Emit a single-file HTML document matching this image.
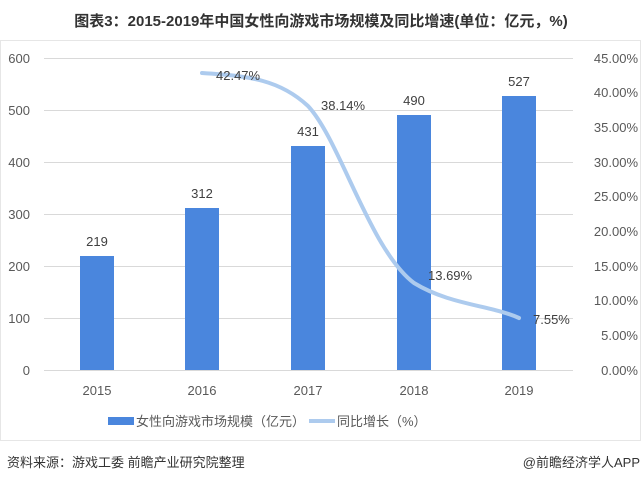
<!DOCTYPE html>
<html><head><meta charset="utf-8"><style>
body{margin:0;width:642px;height:482px;background:#fff;overflow:hidden}
svg{display:block}
</style></head><body>
<svg width="642" height="482" xmlns="http://www.w3.org/2000/svg" font-family="'Liberation Sans','Noto Sans CJK SC',sans-serif">
<text x="321" y="26" text-anchor="middle" font-size="15" font-weight="bold" fill="#333">图表3：2015-2019年中国女性向游戏市场规模及同比增速(单位：亿元，%)</text>
<rect x="0.5" y="40.5" width="640" height="400" fill="none" stroke="#e6e6e6"/>
<g stroke="#d9d9d9" stroke-width="1">
<line x1="44" y1="58.5" x2="573" y2="58.5"/>
<line x1="44" y1="110.5" x2="573" y2="110.5"/>
<line x1="44" y1="162.5" x2="573" y2="162.5"/>
<line x1="44" y1="214.5" x2="573" y2="214.5"/>
<line x1="44" y1="266.5" x2="573" y2="266.5"/>
<line x1="44" y1="318.5" x2="573" y2="318.5"/>
<line x1="44" y1="370.5" x2="573" y2="370.5"/>
</g>
<g font-size="13" fill="#595959" text-anchor="end">
<text x="30" y="63">600</text><text x="30" y="115">500</text><text x="30" y="167">400</text>
<text x="30" y="219">300</text><text x="30" y="271">200</text><text x="30" y="323">100</text><text x="30" y="375">0</text>
</g>
<g font-size="13" fill="#595959" text-anchor="end">
<text x="638" y="63">45.00%</text><text x="638" y="97">40.00%</text><text x="638" y="132">35.00%</text>
<text x="638" y="167">30.00%</text><text x="638" y="201">25.00%</text><text x="638" y="236">20.00%</text>
<text x="638" y="271">15.00%</text><text x="638" y="305">10.00%</text><text x="638" y="340">5.00%</text>
<text x="638" y="375">0.00%</text>
</g>
<g fill="#4a86dd">
<rect x="80" y="256" width="34" height="114"/>
<rect x="185" y="208" width="34" height="162"/>
<rect x="291" y="146" width="34" height="224"/>
<rect x="397" y="115" width="34" height="255"/>
<rect x="502" y="96" width="34" height="274"/>
</g>
<g font-size="13" fill="#404040" text-anchor="middle">
<text x="97" y="246">219</text><text x="202" y="198">312</text><text x="308" y="136">431</text>
<text x="414" y="105">490</text><text x="519" y="86">527</text>
</g>
<path d="M202,73 C250,76 280,80 308,106 C340,140 370,250 414,283 C450,305 490,305 519,318" fill="none" stroke="#adcbee" stroke-width="4" stroke-linecap="round"/>
<g font-size="13" fill="#404040">
<text x="216" y="80">42.47%</text><text x="321" y="110">38.14%</text>
<text x="428" y="280">13.69%</text><text x="533" y="324">7.55%</text>
</g>
<g font-size="13" fill="#595959" text-anchor="middle">
<text x="97" y="395">2015</text><text x="202" y="395">2016</text><text x="308" y="395">2017</text>
<text x="414" y="395">2018</text><text x="519" y="395">2019</text>
</g>
<rect x="108" y="417" width="26" height="8" fill="#4a86dd"/>
<text x="136" y="426" font-size="13" fill="#595959">女性向游戏市场规模（亿元）</text>
<line x1="309" y1="421" x2="335" y2="421" stroke="#adcbee" stroke-width="4"/>
<text x="337" y="426" font-size="13" fill="#595959">同比增长（%）</text>
<text x="7" y="467" font-size="13" fill="#333">资料来源：游戏工委 前瞻产业研究院整理</text>
<text x="640" y="467" font-size="13" fill="#333" text-anchor="end">@前瞻经济学人APP</text>
</svg>
</body></html>
